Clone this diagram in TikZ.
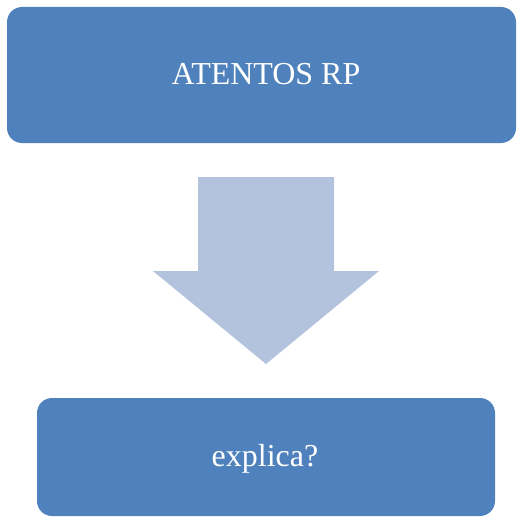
\documentclass[tikz,border=0pt]{standalone}
\usepackage{fontspec}
\setmainfont{Liberation Serif}
\definecolor{boxblue}{HTML}{4F81BD}
\definecolor{arrowblue}{HTML}{B3C3DE}
\begin{document}
\begin{tikzpicture}[x=0.02cm,y=-0.02cm,
  block/.style={rectangle, rounded corners=0.3cm, fill=boxblue, draw=none, inner sep=0pt},
  label/.style={text=white, font=\fontsize{18.2}{22}\selectfont, inner sep=0pt, anchor=base},
  downarrow/.style={fill=arrowblue, draw=none}]
  \useasboundingbox (0,0) rectangle (517,517);
  % top block
  \node[block, minimum width=509*0.02cm, minimum height=136*0.02cm] (top) at (261.5,75) {};
  \node[label] (toptext) at (266,85) {ATENTOS RP};
  % bottom block
  \node[block, minimum width=458*0.02cm, minimum height=118*0.02cm] (bottom) at (266,457) {};
  \node[label] (bottomtext) at (265,466) {explica?};
  % block arrow between them
  \fill[downarrow] (198,177) -- (334,177) -- (334,271) -- (379,271) -- (266,364)
    -- (153,271) -- (198,271) -- cycle;
\end{tikzpicture}
\end{document}
